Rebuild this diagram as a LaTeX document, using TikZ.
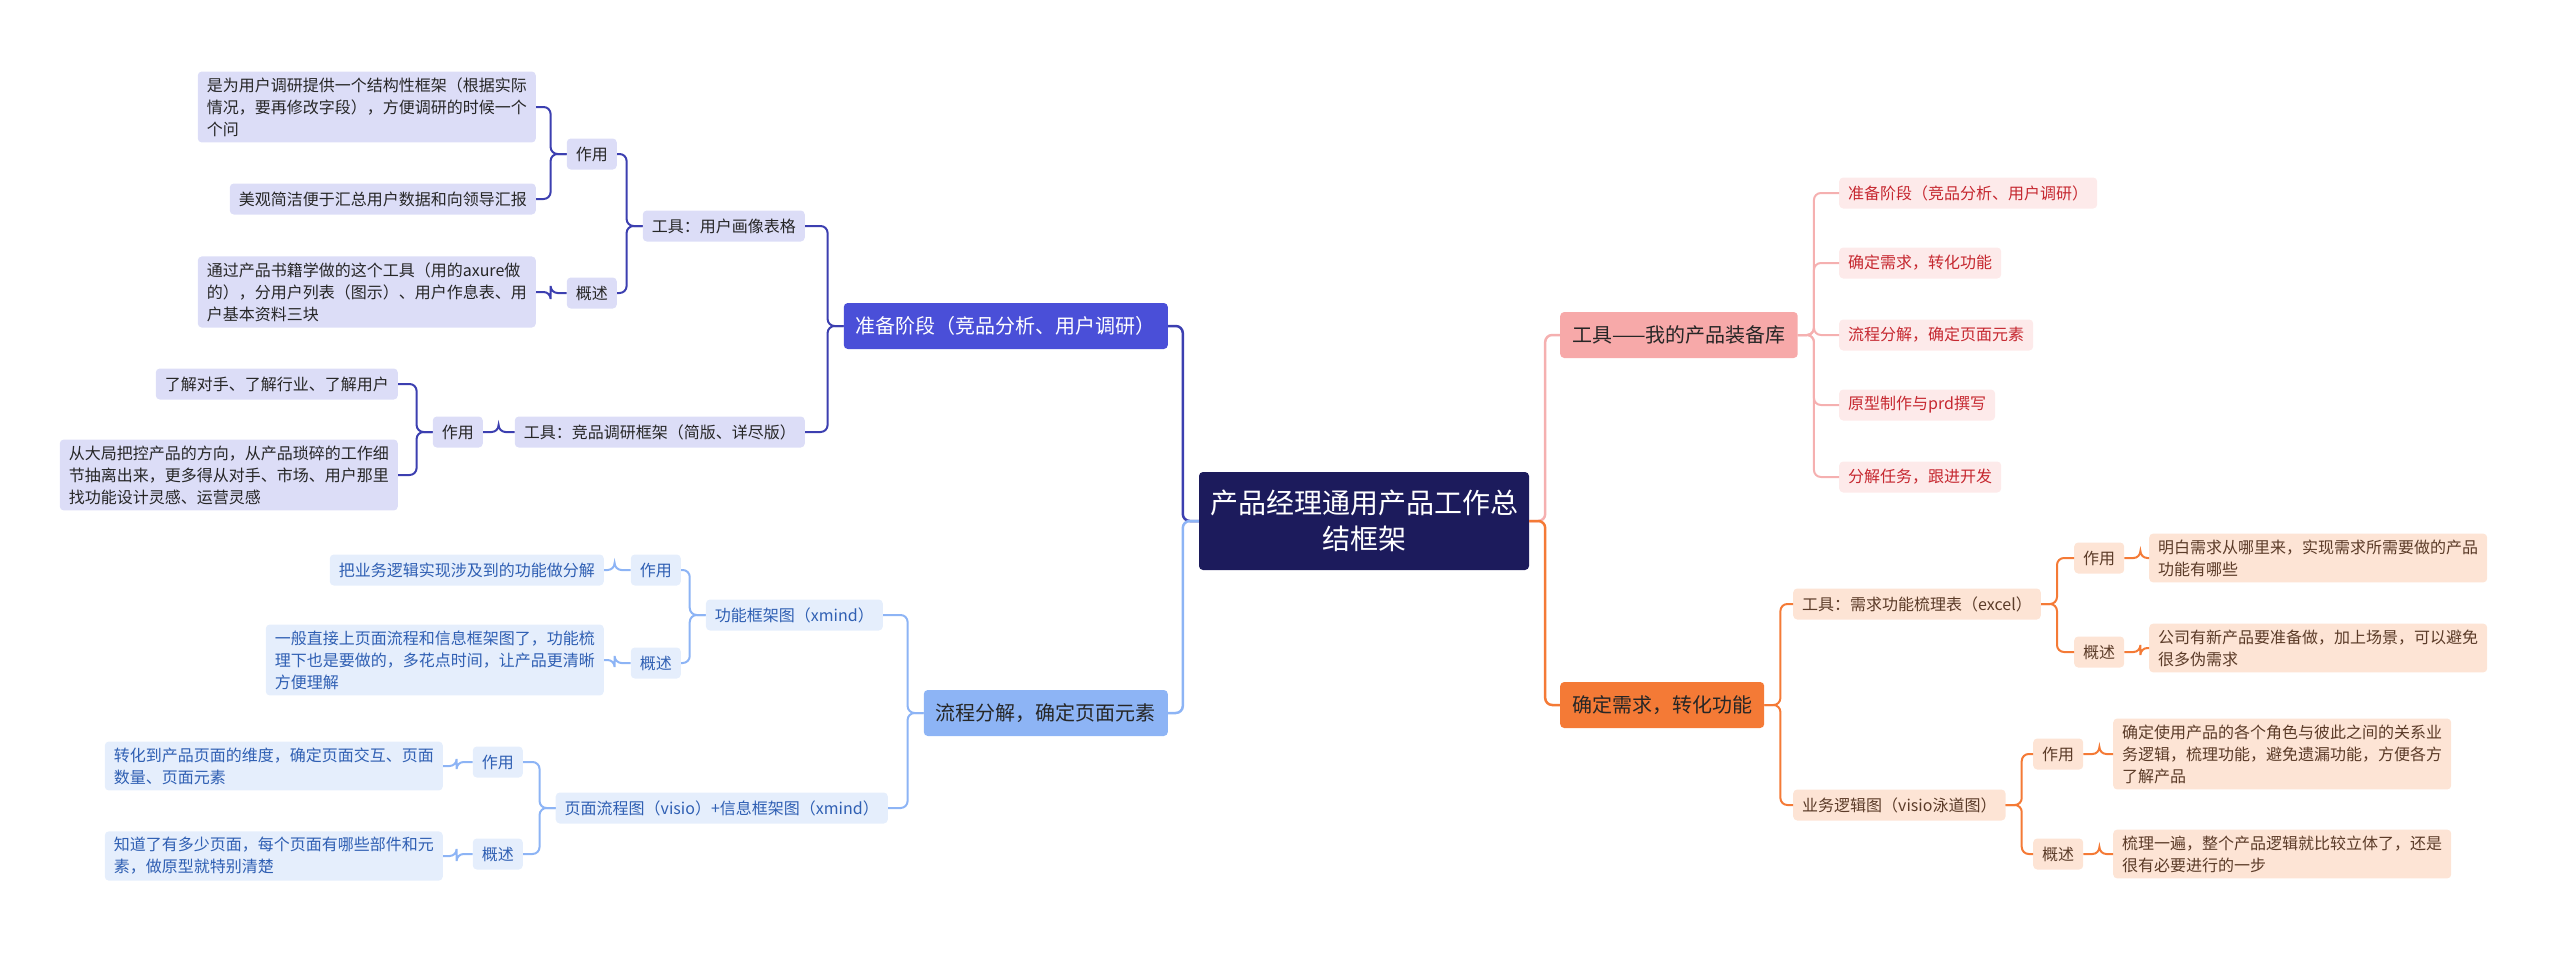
\documentclass[tikz,border=0pt]{standalone}
\usepackage{fontspec}
\setmainfont{Noto Sans CJK SC}
\definecolor{rootc}{HTML}{1C1B5C}
\definecolor{prepc}{HTML}{4A4FD8}
\definecolor{prepline}{HTML}{3C3FB0}
\definecolor{prepleaf}{HTML}{DCDDF7}
\definecolor{flowc}{HTML}{8DB4F5}
\definecolor{flowleaf}{HTML}{E5EEFC}
\definecolor{flowtext}{HTML}{2F5FB3}
\definecolor{toolc}{HTML}{F7A9A9}
\definecolor{toolline}{HTML}{F5B0B0}
\definecolor{toolleaf}{HTML}{FDEAEA}
\definecolor{tooltext}{HTML}{C62830}
\definecolor{reqc}{HTML}{F47A36}
\definecolor{reqleaf}{HTML}{FDE4D5}
\definecolor{reqtext}{HTML}{5B3B28}
\tikzset{
  box/.style={rounded corners=4pt, align=left, inner xsep=9pt, inner ysep=6pt, minimum height=31pt, font=\fontsize{16}{22}\selectfont},
  rootbox/.style={fill=rootc, text=white, rounded corners=4pt, align=center, minimum width=330pt, minimum height=98pt, font=\fontsize{28}{36}\selectfont},
  mainbox/.style={rounded corners=4pt, inner xsep=12pt, minimum height=46pt, font=\fontsize{20}{26}\selectfont},
  pA/.style={box, fill=prepleaf, text=black!85},
  fA/.style={box, fill=flowleaf, text=flowtext},
  tA/.style={box, fill=toolleaf, text=tooltext},
  rA/.style={box, fill=reqleaf, text=reqtext},
  lk/.style={rounded corners=7pt, line width=2pt},
}
\newcommand{\lft}[3][]{\draw[lk,#1] (#2.west) -- ++(-16,0) |- (#3.east);}
\newcommand{\rgt}[3][]{\draw[lk,#1] (#2.east) -- ++(16,0) |- (#3.west);}
\begin{document}
\begin{tikzpicture}[x=1pt,y=-1pt]
\useasboundingbox (0,0) rectangle (2560,953);
\node[rootbox] (root) at (1364,521) {产品经理通用产品工作总\\结框架};
% left
\node[mainbox, fill=prepc, text=white, anchor=east] (L1) at (1168,326) {准备阶段（竞品分析、用户调研）};
\node[mainbox, fill=flowc, text=black!85, anchor=east] (L2) at (1168,713) {流程分解，确定页面元素};
\node[pA, anchor=east] (A) at (805,226) {工具：用户画像表格};
\node[pA, anchor=east] (B) at (805,432) {工具：竞品调研框架（简版、详尽版）};
\node[pA, anchor=east] (a1) at (617,154) {作用};
\node[pA, anchor=east] (a2) at (617,293) {概述};
\node[pA, anchor=east] (t1) at (536,107) {是为用户调研提供一个结构性框架（根据实际\\情况，要再修改字段），方便调研的时候一个\\个问};
\node[pA, anchor=east] (t2) at (536,199) {美观简洁便于汇总用户数据和向领导汇报};
\node[pA, anchor=east] (t3) at (536,292) {通过产品书籍学做的这个工具（用的axure做\\的），分用户列表（图示）、用户作息表、用\\户基本资料三块};
\node[pA, anchor=east] (b1) at (483,432) {作用};
\node[pA, anchor=east] (t4) at (398,384) {了解对手、了解行业、了解用户};
\node[pA, anchor=east] (t5) at (398,475) {从大局把控产品的方向，从产品琐碎的工作细\\节抽离出来，更多得从对手、市场、用户那里\\找功能设计灵感、运营灵感};
\node[fA, anchor=east] (C) at (883,615) {功能框架图（xmind）};
\node[fA, anchor=east] (c1) at (681,570) {作用};
\node[fA, anchor=east] (c2) at (681,663) {概述};
\node[fA, anchor=east] (t6) at (604,570) {把业务逻辑实现涉及到的功能做分解};
\node[fA, anchor=east] (t7) at (604,660) {一般直接上页面流程和信息框架图了，功能梳\\理下也是要做的，多花点时间，让产品更清晰\\方便理解};
\node[fA, anchor=east] (D) at (888,808) {页面流程图（visio）+信息框架图（xmind）};
\node[fA, anchor=east] (d1) at (523,762) {作用};
\node[fA, anchor=east] (d2) at (523,854) {概述};
\node[fA, anchor=east] (t8) at (443,766) {转化到产品页面的维度，确定页面交互、页面\\数量、页面元素};
\node[fA, anchor=east] (t9) at (443,856) {知道了有多少页面，每个页面有哪些部件和元\\素，做原型就特别清楚};
% right
\node[mainbox, fill=toolc, text=black!85, anchor=west] (R1) at (1560,335) {工具——我的产品装备库};
\node[mainbox, fill=reqc, text=black!85, anchor=west] (R2) at (1560,705) {确定需求，转化功能};
\node[tA, anchor=west] (r1) at (1839,193) {准备阶段（竞品分析、用户调研）};
\node[tA, anchor=west] (r2) at (1839,263) {确定需求，转化功能};
\node[tA, anchor=west] (r3) at (1839,335) {流程分解，确定页面元素};
\node[tA, anchor=west] (r4) at (1839,405) {原型制作与prd撰写};
\node[tA, anchor=west] (r5) at (1839,477) {分解任务，跟进开发};
\node[rA, anchor=west] (E) at (1793,604) {工具：需求功能梳理表（excel）};
\node[rA, anchor=west] (e1) at (2074,558) {作用};
\node[rA, anchor=west] (e2) at (2074,652) {概述};
\node[rA, anchor=west] (t10) at (2149,558) {明白需求从哪里来，实现需求所需要做的产品\\功能有哪些};
\node[rA, anchor=west] (t11) at (2149,648) {公司有新产品要准备做，加上场景，可以避免\\很多伪需求};
\node[rA, anchor=west] (F) at (1793,805) {业务逻辑图（visio泳道图）};
\node[rA, anchor=west] (f1) at (2033,754) {作用};
\node[rA, anchor=west] (f2) at (2033,854) {概述};
\node[rA, anchor=west] (t12) at (2113,754) {确定使用产品的各个角色与彼此之间的关系业\\务逻辑，梳理功能，避免遗漏功能，方便各方\\了解产品};
\node[rA, anchor=west] (t13) at (2113,854) {梳理一遍，整个产品逻辑就比较立体了，还是\\很有必要进行的一步};
% connectors
\lft[prepline, line width=2.5pt]{root}{L1}
\lft[flowc, line width=2.5pt]{root}{L2}
\lft[prepline]{L1}{A} \lft[prepline]{L1}{B}
\lft[prepline]{A}{a1} \lft[prepline]{A}{a2}
\lft[prepline]{a1}{t1} \lft[prepline]{a1}{t2} \lft[prepline]{a2}{t3}
\lft[prepline]{B}{b1} \lft[prepline]{b1}{t4} \lft[prepline]{b1}{t5}
\lft[flowc]{L2}{C} \lft[flowc]{L2}{D}
\lft[flowc]{C}{c1} \lft[flowc]{C}{c2} \lft[flowc]{c1}{t6} \lft[flowc]{c2}{t7}
\lft[flowc]{D}{d1} \lft[flowc]{D}{d2} \lft[flowc]{d1}{t8} \lft[flowc]{d2}{t9}
\rgt[toolline, line width=2.5pt]{root}{R1}
\rgt[reqc, line width=2.5pt]{root}{R2}
\rgt[toolline]{R1}{r1} \rgt[toolline]{R1}{r2} \rgt[toolline]{R1}{r3} \rgt[toolline]{R1}{r4} \rgt[toolline]{R1}{r5}
\rgt[reqc]{R2}{E} \rgt[reqc]{R2}{F}
\rgt[reqc]{E}{e1} \rgt[reqc]{E}{e2} \rgt[reqc]{e1}{t10} \rgt[reqc]{e2}{t11}
\rgt[reqc]{F}{f1} \rgt[reqc]{F}{f2} \rgt[reqc]{f1}{t12} \rgt[reqc]{f2}{t13}
\end{tikzpicture}
\end{document}
